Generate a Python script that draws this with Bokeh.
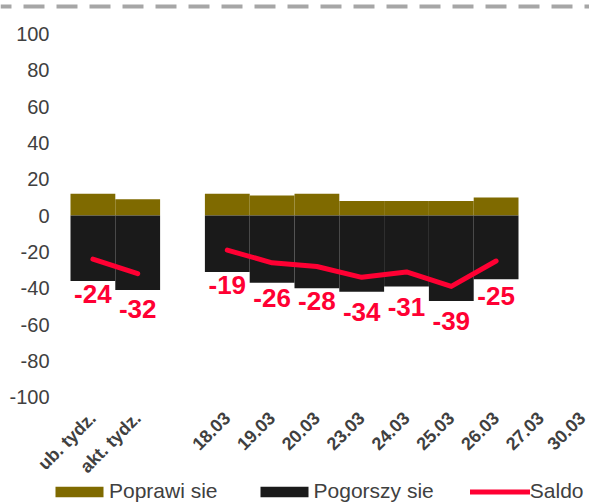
import math
from bokeh.plotting import figure
from bokeh.models import (Range1d, Span, Legend, LegendItem, ColumnDataSource,
                          FixedTicker, LabelSet)
from bokeh.core.properties import value
from bokeh.embed import file_html
from bokeh.resources import INLINE

# ---------------- data ----------------
categories = ["ub. tydz.", "akt. tydz.", "", "18.03", "19.03", "20.03",
              "23.03", "24.03", "25.03", "26.03", "27.03", "30.03"]
poprawi = [12, 9, None, 12, 11, 12, 8, 8, 8, 10, None, None]
pogorszy = [-36, -41, None, -31, -37, -40, -42, -39, -47, -35, None, None]
saldo = [-24, -32, None, -19, -26, -28, -34, -31, -39, -25, None, None]
y_ticks = [100, 80, 60, 40, 20, 0, -20, -40, -60, -80, -100]

# ---------------- styles ----------------
OLIVE = "#7F6A00"
DARK = "#1A1A1A"
RED = "#FF0033"
TXT = "#404040"
FONT = "Liberation Sans"

idx = list(range(len(categories)))
bar_idx = [i for i in idx if poprawi[i] is not None]
bars = ColumnDataSource(dict(x=bar_idx,
                             up=[poprawi[i] for i in bar_idx],
                             down=[pogorszy[i] for i in bar_idx]))
line_src = ColumnDataSource(dict(x=idx,
                                 y=[float("nan") if v is None else v for v in saldo]))
lab_idx = [i for i in idx if saldo[i] is not None]
lab_src = ColumnDataSource(dict(x=lab_idx,
                                y=[saldo[i] for i in lab_idx],
                                t=[str(saldo[i]) for i in lab_idx]))

# ---------------- figure (frame covers whole canvas) ----------------
W, H = 589, 503
CW = 44.8           # px per category
PX = 1.816          # px per y unit
X0 = 70             # px where the first bar starts
Y100 = 33.5         # px of the 100 level
x_start = -0.5 - X0 / CW
x_end = -0.5 + (W - X0) / CW
y_end = 100 + Y100 / PX
y_start = 100 - (H - Y100) / PX

p = figure(width=W, height=H,
           x_range=Range1d(x_start, x_end), y_range=Range1d(y_start, y_end),
           toolbar_location=None, output_backend="svg", min_border=0)
p.outline_line_color = None
p.grid.visible = False

# top dashed rule
p.add_layout(Span(location=100 + (Y100 - 6) / PX, dimension="width",
                  line_color="#A6A6A6", line_width=4, line_dash="21 12",
                  line_dash_offset=10))

r_up = p.vbar(x="x", top="up", bottom=0, width=1.0, source=bars,
              fill_color=OLIVE, line_color=None)
r_down = p.vbar(x="x", top=0, bottom="down", width=1.0, source=bars,
                fill_color=DARK, line_color=None)
r_line = p.line(x="x", y="y", source=line_src, line_color=RED, line_width=5,
                line_cap="round", line_join="round")

p.add_layout(LabelSet(x="x", y="y", text="t", source=lab_src, y_offset=-35,
                      text_align="center", text_baseline="middle",
                      text_font=value(FONT), text_font_size="26px",
                      text_font_style="bold", text_color=RED))

# y axis (drawn at the left edge of the bars)
p.yaxis.fixed_location = -0.5
p.yaxis.ticker = FixedTicker(ticks=y_ticks)
p.yaxis.major_label_overrides = {v: str(v) for v in y_ticks}
p.yaxis.axis_line_color = None
p.yaxis.major_tick_line_color = None
p.yaxis.minor_tick_line_color = None
p.yaxis.major_label_standoff = 15
p.yaxis.major_label_text_font = FONT
p.yaxis.major_label_text_font_size = "20px"
p.yaxis.major_label_text_color = TXT

# x axis (drawn just below the -100 level)
p.xaxis.fixed_location = -100 - 3 / PX
p.xaxis.ticker = FixedTicker(ticks=[i for i, c in enumerate(categories) if c])
p.xaxis.major_label_overrides = {i: c for i, c in enumerate(categories) if c}
p.xaxis.major_label_orientation = math.pi / 4
p.xaxis.axis_line_color = None
p.xaxis.major_tick_line_color = None
p.xaxis.minor_tick_line_color = None
p.xaxis.major_label_standoff = 9
p.xaxis.major_label_text_font = FONT
p.xaxis.major_label_text_font_size = "18px"
p.xaxis.major_label_text_font_style = "bold"
p.xaxis.major_label_text_color = TXT

legend = Legend(items=[LegendItem(label="Poprawi sie", renderers=[r_up]),
                       LegendItem(label="Pogorszy sie", renderers=[r_down]),
                       LegendItem(label="Saldo", renderers=[r_line])],
                orientation="horizontal", location=(49, 0),
                glyph_width=60, glyph_height=13, label_standoff=0, spacing=36,
                padding=0, margin=0, border_line_color=None,
                background_fill_alpha=0,
                label_text_font=FONT, label_text_font_size="21px",
                label_text_color=TXT)
p.add_layout(legend, "center")

open("out.html", "w").write(file_html(p, INLINE))
